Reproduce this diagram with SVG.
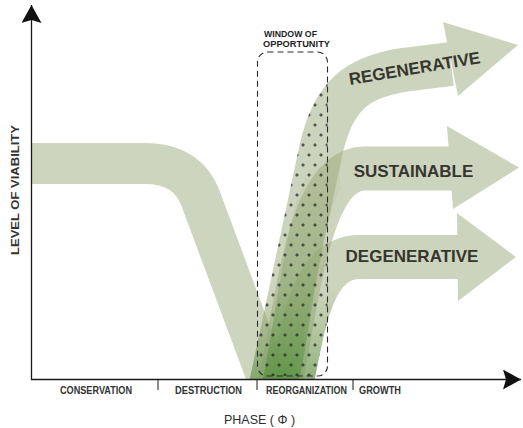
<svg xmlns="http://www.w3.org/2000/svg" width="523" height="428" viewBox="0 0 523 428">
<style>
.ax{stroke:#1a1a1a;stroke-width:1.3;fill:none}
.tick{stroke:#1a1a1a;stroke-width:1;fill:none}
.phase{font-family:"Liberation Sans",Arial,sans-serif;font-weight:bold;font-size:10.5px;fill:#333333}
.big{font-family:"Liberation Sans",Arial,sans-serif;font-weight:bold;font-size:17px;fill:#35362f}
.small{font-family:"Liberation Sans",Arial,sans-serif;font-weight:bold;font-size:9px;fill:#1e1e1e}
.axt{font-family:"Liberation Sans",Arial,sans-serif;font-size:12.5px;fill:#2e2e2e}
.rise{fill:none;stroke:#9dab7d;stroke-width:44}
.head{fill:#9dab7d}
.mk{fill:none;stroke:white;stroke-width:44}
</style>
<defs>
<marker id="arr" viewBox="0 0 18 20" markerWidth="18" markerHeight="20" refX="18" refY="10" orient="auto" markerUnits="userSpaceOnUse">
<path d="M0,0 L18,10 L0,20 L3,10 Z" fill="#111"/>
</marker>
<clipPath id="plot"><rect x="32" y="0" width="491" height="379"/></clipPath>
<clipPath id="win"><rect x="257.5" y="52" width="70" height="324" rx="10"/></clipPath>
<pattern id="plus" x="0" y="0" width="12" height="20" patternUnits="userSpaceOnUse">
<path d="M1.3,5 h3.4 M3,3.3 v3.4 M7.3,15 h3.4 M9,13.3 v3.4" stroke="#1e1e1e" stroke-width="0.9" fill="none"/>
</pattern>
<mask id="bands" maskUnits="userSpaceOnUse" x="0" y="0" width="523" height="428">
<path class="mk" d="M 271 385 L 321 150 C 333 95 358 77 403 70 L 451 64"/>
<path class="mk" d="M 280 385 C 298 300 308 168.5 365 168.5 L 452 168.5"/>
<path class="mk" d="M 291 385 C 303 330 310 257 360 257 L 458 257"/>
</mask>
<linearGradient id="gs" gradientUnits="userSpaceOnUse" x1="0" y1="380" x2="0" y2="150">
<stop offset="0" stop-color="#4c8a38" stop-opacity="0.65"/>
<stop offset="0.45" stop-color="#6f9c55" stop-opacity="0.3"/>
<stop offset="1" stop-color="#8fa870" stop-opacity="0"/>
</linearGradient>
<linearGradient id="gb" gradientUnits="userSpaceOnUse" x1="0" y1="380" x2="0" y2="290">
<stop offset="0" stop-color="#5a9444" stop-opacity="0.55"/>
<stop offset="1" stop-color="#7da45e" stop-opacity="0"/>
</linearGradient>
</defs>

<g id="bands-group" clip-path="url(#plot)">
<path id="descending" d="M 32 163.5 L 145 163.5 Q 187.6 163.5 200.8 199.1 L 270 385" fill="none" stroke="#ced5be" stroke-width="41"/>
<g id="regenerative" opacity="0.5">
<path class="rise" d="M 271 385 L 321 150 C 333 95 358 77 403 70 L 451 64"/>
<polygon class="head" points="443,22 518,45 458,96"/>
</g>
<g id="sustainable" opacity="0.5">
<path class="rise" d="M 280 385 C 298 300 308 168.5 365 168.5 L 452 168.5"/>
<polygon class="head" points="447,126 519,167.5 453,209"/>
</g>
<g id="degenerative" opacity="0.5">
<path class="rise" d="M 291 385 C 303 330 310 257 360 257 L 458 257"/>
<polygon class="head" points="457,213 516,257 458,301"/>
</g>
<path d="M 280 385 C 298 300 308 168.5 340 168.5" fill="none" stroke="url(#gs)" stroke-width="36"/>
<rect x="230" y="280" width="110" height="100" fill="url(#gb)" mask="url(#bands)"/>
<g clip-path="url(#win)">
<rect x="250" y="40" width="90" height="345" fill="url(#plus)" mask="url(#bands)"/>
</g>
</g>

<g id="window">
<rect x="257.5" y="52" width="70" height="324" rx="10" fill="none" stroke="#2a2a2a" stroke-width="1.1" stroke-dasharray="6 4"/>
<text class="small" x="264" y="37" textLength="53" lengthAdjust="spacingAndGlyphs">WINDOW OF</text>
<text class="small" x="263" y="47" textLength="67" lengthAdjust="spacingAndGlyphs">OPPORTUNITY</text>
</g>

<g id="arrow-labels">
<text class="big" x="415.5" y="74" text-anchor="middle" transform="rotate(-9.5 415.5 74)">REGENERATIVE</text>
<text class="big" x="413.5" y="177" text-anchor="middle">SUSTAINABLE</text>
<text class="big" x="412" y="262" text-anchor="middle">DEGENERATIVE</text>
</g>

<g id="axes">
<line class="ax" x1="31.5" y1="380" x2="31.5" y2="5" marker-end="url(#arr)"/>
<line class="ax" x1="31" y1="379.5" x2="521" y2="379.5" marker-end="url(#arr)"/>
<line class="tick" x1="158" y1="379.5" x2="158" y2="390"/>
<line class="tick" x1="257" y1="379.5" x2="257" y2="390"/>
<line class="tick" x1="353" y1="379.5" x2="353" y2="390"/>
<text class="phase" x="60" y="393.5" textLength="72" lengthAdjust="spacingAndGlyphs">CONSERVATION</text>
<text class="phase" x="175" y="393.5" textLength="67" lengthAdjust="spacingAndGlyphs">DESTRUCTION</text>
<text class="phase" x="266" y="393.5" textLength="81" lengthAdjust="spacingAndGlyphs">REORGANIZATION</text>
<text class="phase" x="359" y="393.5" textLength="42" lengthAdjust="spacingAndGlyphs">GROWTH</text>
<text class="axt" x="259.5" y="423.5" text-anchor="middle">PHASE ( Φ )</text>
<text class="phase" x="0" y="0" font-size="12" text-anchor="middle" textLength="130" lengthAdjust="spacingAndGlyphs" transform="translate(18.5 190) rotate(-90)">LEVEL OF VIABILITY</text>
</g>
</svg>
